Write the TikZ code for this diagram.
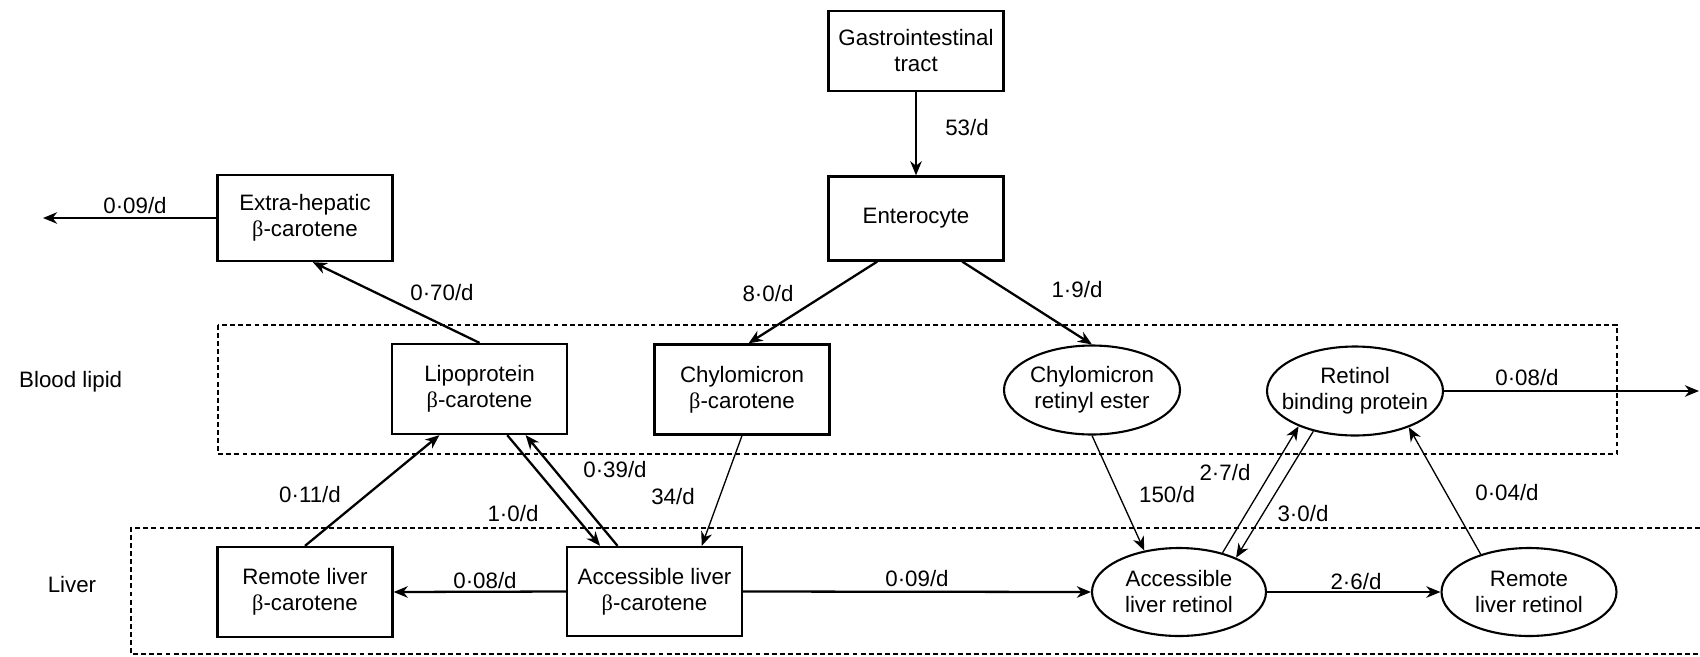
\documentclass[tikz,border=0pt]{standalone}
\usepackage{fontspec}
\setmainfont{Liberation Sans}
\newfontfamily\greekfont{Liberation Serif}
\newcommand{\bc}{{\greekfont β}-carotene}
\usetikzlibrary{arrows.meta, shapes.geometric}

\begin{document}
\begin{tikzpicture}[x=0.02cm, y=-0.02cm,
    font=\fontsize{12.7pt}{14.8pt}\selectfont,
    pool/.style={draw, line width=1.3pt, rectangle, minimum width=3.5cm, minimum height=1.76cm, align=center, inner sep=0pt},
    oval/.style={draw, line width=1.2pt, ellipse, minimum width=3.52cm, minimum height=1.78cm, align=center, inner xsep=-0.4cm, inner ysep=-0.3cm},
    flow/.style={-{Stealth[length=8pt, width=6.5pt, inset=2.5pt]}, line width=1.3pt},
    thinflow/.style={flow, line width=0.75pt},
    region/.style={draw, dash pattern=on 2.8pt off 1.8pt, line width=0.6pt},
    rate/.style={inner sep=0pt}]
\useasboundingbox (0,0) rectangle (1700,656);

% compartments
\draw[region] (218,325) rectangle (1617,454);
\draw[region] (1700,528) -- (131,528) -- (131,654) -- (1700,654);
\node[anchor=west] (blood) at (13,382) {Blood lipid};
\node (liver) at (72,585) {Liver};

% pools
\node[pool, minimum height=1.6cm] (gi) at (916,51) {Gastrointestinal\\tract};
\node[pool, minimum height=1.68cm] (ent) at (916,218.5) {Enterocyte};
\node[pool, minimum height=1.72cm] (exh) at (305,218) {Extra-hepatic\\\bc};
\node[pool, minimum height=1.8cm] (lip) at (479.5,389) {Lipoprotein\\\bc};
\node[pool, minimum height=1.8cm] (chyb) at (742,389.5) {Chylomicron\\\bc};
\node[oval] (chyr) at (1092,390) {Chylomicron\\retinyl ester};
\node[oval] (rbp) at (1355,391) {Retinol\\binding protein};
\node[pool, minimum height=1.8cm] (rlb) at (305,592) {Remote liver\\\bc};
\node[pool, minimum height=1.78cm] (alb) at (654.5,591.5) {Accessible liver\\\bc};
\node[oval, minimum width=3.48cm, minimum height=1.76cm] (alr) at (1179,592) {Accessible\\liver retinol};
\node[oval, minimum width=3.5cm, minimum height=1.76cm] (rlr) at (1529,592) {Remote\\liver retinol};
\coordinate (out1) at (43,218);
\coordinate (out2) at (1699,391);

% flows
\draw[flow] (gi) -- (ent);
\draw[flow] (ent.-132) -- (chyb.82);
\draw[flow] (ent.-43) -- (chyr.north);
\draw[flow] (exh.west) -- (out1);
\draw[flow] (lip.north) -- (exh.-80);
\draw[flow] (rlb.north) -- (lip.-131);
\draw[flow] (lip.-59) -- (alb.140);
\draw[flow] (alb.129) -- (lip.-45);
\draw[thinflow] (chyb.south) -- (alb.44);
\draw[flow] (alb.west) -- (rlb.east);
\draw[flow] (alb.east) -- (alr.west);
\draw[thinflow] (chyr.south) -- (alr.130);
\draw[thinflow] (alr.42) -- (rbp.-148);
\draw[thinflow] (rbp.-136) -- (alr.31);
\draw[flow] (alr.east) -- (rlr.west);
\draw[flow] (rbp.east) -- (out2);
\draw[thinflow] (rlr.142) -- (rbp.-34);

% rates
\node[rate] (r53) at (967,128) {53/d};
\node[rate] (r80) at (768,294) {8·0/d};
\node[rate] (r19) at (1077,290) {1·9/d};
\node[rate] (r009a) at (135,206) {0·09/d};
\node[rate] (r070) at (442,293) {0·70/d};
\node[rate] (r011) at (310,495) {0·11/d};
\node[rate] (r10) at (513,514) {1·0/d};
\node[rate] (r039) at (615,470) {0·39/d};
\node[rate] (r34) at (673,497) {34/d};
\node[rate] (r008a) at (485,581) {0·08/d};
\node[rate] (r009b) at (917,579) {0·09/d};
\node[rate] (r150) at (1167,495) {150/d};
\node[rate] (r27) at (1225,473) {2·7/d};
\node[rate] (r30) at (1303,514) {3·0/d};
\node[rate] (r26) at (1356,582) {2·6/d};
\node[rate] (r008b) at (1527,378) {0·08/d};
\node[rate] (r004) at (1507,493) {0·04/d};
\end{tikzpicture}
\end{document}
